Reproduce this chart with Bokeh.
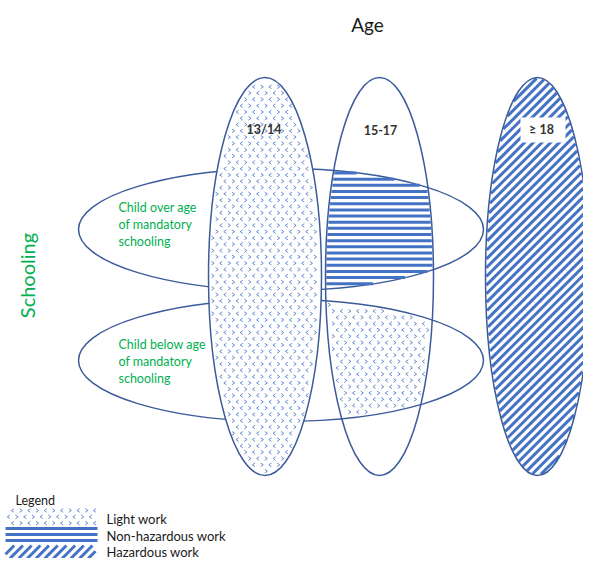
import numpy as np
from bokeh.plotting import figure
from bokeh.models import Range1d
from bokeh.core.properties import value
from bokeh.embed import file_html
from bokeh.resources import INLINE

# ---- diagram data (picture-pixel coordinates) ----
age_labels = ["13/14", "15-17", "\u2265 18"]
age_cx = [264.5, 379.0, 537.0]
age_cy = [276.0, 276.0, 276.0]
age_w = [113.0, 108.0, 104.0]
age_h = [398.0, 398.0, 398.0]

school_labels = [["Child over age", "of mandatory", "schooling"],
                 ["Child below age", "of mandatory", "schooling"]]
school_cx = [280.5, 280.5]
school_cy = [229.0, 360.0]
school_w = [405.0, 405.0]
school_h = [122.0, 122.0]

legend_labels = ["Light work", "Non-hazardous work", "Hazardous work"]

OUTLINE = "#3b5b9b"
HATCH = "#4472c4"
GREEN = "#00b050"
FONT = "Lato"

W, H = 583, 558
p = figure(width=W, height=H, output_backend="svg", toolbar_location=None,
           x_range=Range1d(0, W), y_range=Range1d(H, 0),
           x_axis_type=None, y_axis_type=None, min_border=0,
           outline_line_color=None)
p.xgrid.visible = False
p.ygrid.visible = False


def in_ell(x, y, e, shrink=0.0):
    cx, cy, w, h = e
    a, b = w / 2 - shrink, h / 2 - shrink
    return ((x - cx) / a) ** 2 + ((y - cy) / b) ** 2 <= 1.0


def ell_xspan(y, e):
    cx, cy, w, h = e
    a, b = w / 2, h / 2
    t = 1 - ((y - cy) / b) ** 2
    if t <= 0:
        return None
    r = a * np.sqrt(t)
    return cx - r, cx + r


def chevrons(mask, x0, x1, y0, y1, dx=8.2, dy=6.3):
    xs, ys = [], []
    for j, y in enumerate(np.arange(y0, y1, dy)):
        off = dx / 2 if j % 2 else 0.0
        for i, x in enumerate(np.arange(x0 + off, x1, dx)):
            if mask(x, y):
                d = 1.0 if (i + j) % 2 == 0 else -1.0
                xs.append([x - d * 1.3, x + d * 1.3, x - d * 1.3])
                ys.append([y - 1.8, y, y + 1.8])
    return xs, ys


def hlines(span, y0, y1, dy):
    x0s, x1s, ys = [], [], []
    for y in np.arange(y0, y1, dy):
        s = span(y)
        if s is not None and s[1] - s[0] > 1:
            x0s.append(s[0]); x1s.append(s[1]); ys.append(y)
    return x0s, x1s, ys


def diag_ell(e, step, c0):
    # lines x + y = c clipped to ellipse e
    cx, cy, w, h = e
    a, b = w / 2 - 0.8, h / 2 - 0.8
    out = ([], [], [], [])
    A = 1 / a ** 2 + 1 / b ** 2
    cmin, cmax = cx + cy - (a + b) * 1.2, cx + cy + (a + b) * 1.2
    for c in np.arange(c0 - step * np.ceil((c0 - cmin) / step), cmax, step):
        d = c - cx - cy
        B = -2 * d / b ** 2
        C = d ** 2 / b ** 2 - 1
        disc = B * B - 4 * A * C
        if disc <= 0:
            continue
        u1 = (-B - np.sqrt(disc)) / (2 * A)
        u2 = (-B + np.sqrt(disc)) / (2 * A)
        x1, x2 = cx + u1, cx + u2
        out[0].append(x1); out[1].append(c - x1)
        out[2].append(x2); out[3].append(c - x2)
    return out


def diag_rect(x0, x1, y0, y1, step):
    out = ([], [], [], [])
    for c in np.arange(x0 + y0, x1 + y1, step):
        xa = max(x0, c - y1)
        xb = min(x1, c - y0)
        if xb - xa > 0.5:
            out[0].append(xa); out[1].append(c - xa)
            out[2].append(xb); out[3].append(c - xb)
    return out


E = [(age_cx[k], age_cy[k], age_w[k], age_h[k]) for k in range(3)]
S = [(school_cx[k], school_cy[k], school_w[k], school_h[k]) for k in range(2)]

# schooling ellipses
p.ellipse(x=school_cx, y=school_cy, width=school_w, height=school_h,
          fill_color="white", line_color=OUTLINE, line_width=1.5)


# 15-17 x upper schooling: horizontal stripes
def span_up(y):
    a = ell_xspan(y, E[1]); b = ell_xspan(y, S[0])
    if a is None or b is None:
        return None
    lo, hi = max(a[0], b[0]) + 0.8, min(a[1], b[1]) - 0.8
    return (lo, hi) if hi > lo else None


hx0, hx1, hy = hlines(span_up, 172.5, 291, 6.15)
p.segment(x0=hx0, y0=hy, x1=hx1, y1=hy, line_color=HATCH, line_width=3)

# 15-17 x lower schooling: light work marks
cx_, cy_ = chevrons(lambda x, y: in_ell(x, y, E[1], 3) and in_ell(x, y, S[1], 3),
                    300, 440, 298, 425)
p.multi_line(xs=cx_, ys=cy_, line_color=HATCH, line_width=1, line_alpha=0.8)

# 15-17 outline
p.ellipse(x=[age_cx[1]], y=[age_cy[1]], width=[age_w[1]], height=[age_h[1]],
          fill_alpha=0, line_color=OUTLINE, line_width=1.5)

# 13/14 light work
p.ellipse(x=[age_cx[0]], y=[age_cy[0]], width=[age_w[0]], height=[age_h[0]],
          fill_color="white", line_color=None)
cx_, cy_ = chevrons(lambda x, y: in_ell(x, y, E[0], 3), 200, 330, 80, 476)
p.multi_line(xs=cx_, ys=cy_, line_color=HATCH, line_width=1, line_alpha=0.8)
p.ellipse(x=[age_cx[0]], y=[age_cy[0]], width=[age_w[0]], height=[age_h[0]],
          fill_alpha=0, line_color=OUTLINE, line_width=1.5)

# >=18 hazardous
p.ellipse(x=[age_cx[2]], y=[age_cy[2]], width=[age_w[2]], height=[age_h[2]],
          fill_color="white", line_color=None)
dx0, dy0, dx1, dy1 = diag_ell(E[2], 8.7, 640)
p.segment(x0=dx0, y0=dy0, x1=dx1, y1=dy1, line_color=HATCH, line_width=3)
p.ellipse(x=[age_cx[2]], y=[age_cy[2]], width=[age_w[2]], height=[age_h[2]],
          fill_alpha=0, line_color=OUTLINE, line_width=1.5)

# label box for >=18
p.rect(x=[age_cx[2] + 5.5], y=[129.5], width=[45], height=[25],
       fill_color="white", line_color=None)

# age labels
p.text(x=[age_cx[0] - 1, age_cx[1] + 1, age_cx[2] + 4], y=[129, 129, 129],
       text=age_labels, text_font=value(FONT), text_font_size="12.5px",
       text_font_style="bold", text_color="#333333",
       text_align="center", text_baseline="middle")

# titles
p.text(x=[367], y=[24], text=["Age"], text_font=value(FONT),
       text_font_size="19px", text_color="#1a1a1a",
       text_align="center", text_baseline="middle")
p.text(x=[26], y=[275], text=["Schooling"], text_font=value(FONT),
       text_font_size="20px", text_color=GREEN, angle=np.pi / 2,
       text_align="center", text_baseline="middle")

# schooling labels
for k, lines in enumerate(school_labels):
    y0 = [207, 344][k]
    p.text(x=[118] * 3, y=[y0, y0 + 17, y0 + 34], text=lines,
           text_font=value(FONT), text_font_size="12.5px", text_color=GREEN,
           text_align="left", text_baseline="middle")

# legend
p.text(x=[15], y=[500], text=["Legend"], text_font=value(FONT),
       text_font_size="12.5px", text_color="#1a1a1a",
       text_align="left", text_baseline="middle")
cx_, cy_ = chevrons(lambda x, y: 7 <= x <= 96 and 510 <= y <= 524, 4, 100, 510, 526)
p.multi_line(xs=cx_, ys=cy_, line_color=HATCH, line_width=1, line_alpha=0.8)
p.segment(x0=[5, 5, 5], y0=[528, 534, 540], x1=[97, 97, 97], y1=[528, 534, 540],
          line_color=HATCH, line_width=3)
lx0, ly0, lx1, ly1 = diag_rect(5, 95, 545, 558, 8.7)
p.segment(x0=lx0, y0=ly0, x1=lx1, y1=ly1, line_color=HATCH, line_width=3)
p.text(x=[106] * 3, y=[518, 535, 551], text=legend_labels, text_font=value(FONT),
       text_font_size="13px", text_color="#1a1a1a",
       text_align="left", text_baseline="middle")

open("out.html", "w").write(file_html(p, INLINE))
